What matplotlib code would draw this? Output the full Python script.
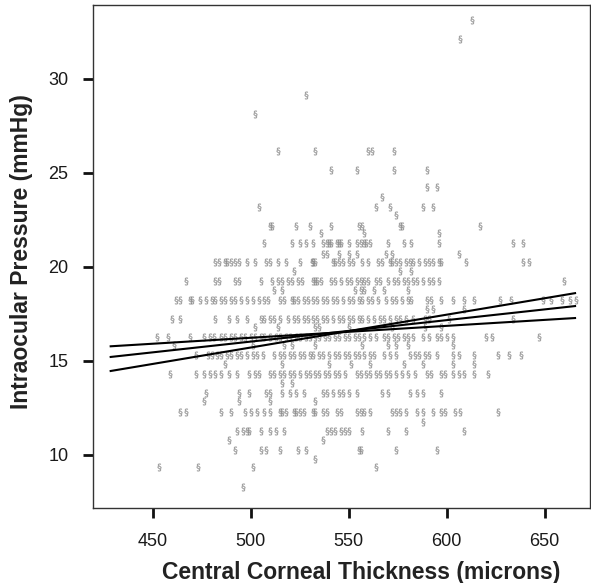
import matplotlib

matplotlib.use("Agg")

import matplotlib.pyplot as plt
import numpy as np

# IOP level of each row of points (mmHg) and the corneal thickness of the points in it
iop_rows = [
    33.15, 32.13, 29.15, 28.12, 26.18, 25.15, 24.22, 23.72, 23.19, 22.75,
    22.18, 21.77, 21.24, 20.67, 20.26, 19.76, 19.23, 18.75, 18.25, 17.77,
    17.24, 16.79, 16.26, 15.81, 15.28, 14.8, 14.3, 13.8, 13.29, 12.84,
    12.29, 11.76, 11.28, 10.8, 10.25, 9.77, 9.33, 8.29,
]
cct_rows = [
    [613],
    [607],
    [528],
    [502],
    [514, 533, 560, 562, 573],
    [541, 554, 573, 590],
    [590, 595],
    [567],
    [504, 564, 571, 588, 593],
    [574],
    [510, 511, 523, 530, 541, 555, 557, 576, 577, 617],
    [536, 558, 596],
    [507, 521, 525, 528, 532, 537, 539, 540, 541, 544, 545, 546, 550, 554, 556,
     558, 559, 561, 570, 578, 582, 596, 634, 639],
    [537, 539, 545, 550, 554, 569, 572, 606],
    [482, 484, 487, 488, 490, 492, 494, 498, 502, 508, 510, 514, 518, 525, 531,
     532, 533, 542, 543, 545, 547, 550, 552, 557, 560, 565, 567, 571, 572, 574,
     576, 579, 581, 583, 586, 589, 591, 593, 596, 597, 610, 639, 642],
    [522, 576, 582],
    [467, 482, 484, 492, 494, 505, 511, 514, 516, 519, 521, 524, 526, 532, 533,
     534, 536, 541, 543, 546, 549, 551, 554, 556, 558, 560, 564, 566, 570, 573,
     575, 578, 580, 583, 585, 588, 591, 593, 596, 660],
    [512, 516, 553, 556, 558, 563, 568, 580],
    [462, 464, 469, 470, 474, 477, 480, 482, 485, 487, 490, 492, 495, 498, 501,
     504, 507, 509, 515, 517, 521, 522, 524, 527, 529, 532, 534, 537, 539, 542,
     544, 547, 550, 552, 555, 557, 560, 562, 565, 569, 572, 574, 577, 580, 582,
     590, 592, 597, 603, 609, 614, 627, 633, 649, 653, 659, 663, 666],
    [590, 593, 609],
    [460, 464, 482, 489, 493, 498, 505, 507, 510, 512, 515, 519, 522, 524, 527,
     529, 532, 534, 537, 539, 542, 545, 547, 550, 552, 555, 557, 560, 563, 566,
     568, 571, 574, 576, 579, 583, 589, 591, 601, 634],
    [502, 514, 533, 535, 550, 572, 589, 597],
    [452, 458, 469, 476, 479, 481, 485, 487, 490, 492, 495, 497, 500, 502, 505,
     507, 510, 513, 515, 518, 520, 523, 525, 528, 530, 533, 535, 538, 540, 543,
     545, 548, 550, 553, 555, 558, 561, 564, 568, 570, 573, 575, 578, 580, 583,
     588, 591, 595, 597, 600, 603, 620, 623, 647],
    [461, 501, 517, 521, 533, 557, 570, 574, 580, 603],
    [472, 478, 480, 483, 485, 488, 490, 493, 495, 498, 501, 503, 506, 512, 515,
     517, 520, 522, 525, 527, 530, 532, 535, 537, 540, 543, 545, 548, 550, 553,
     555, 558, 561, 563, 568, 571, 574, 581, 584, 586, 589, 591, 595, 603, 606,
     614, 626, 632, 638],
    [487, 516, 540, 551, 561, 578, 588, 603, 614],
    [459, 472, 476, 479, 482, 485, 489, 493, 499, 502, 504, 510, 512, 515, 517,
     520, 522, 525, 528, 530, 533, 535, 538, 540, 543, 545, 548, 554, 556, 559,
     561, 564, 566, 569, 571, 574, 577, 580, 584, 590, 592, 597, 599, 603, 606,
     609, 614, 621],
    [516, 521],
    [477, 494, 499, 508, 510, 516, 520, 523, 527, 537, 539, 542, 545, 547, 550,
     554, 567, 570, 581, 585, 588, 597],
    [476, 494, 510, 533],
    [464, 467, 485, 490, 497, 500, 503, 507, 510, 515, 516, 518, 522, 523, 525,
     527, 532, 533, 537, 539, 544, 546, 554, 556, 558, 561, 572, 574, 576, 579,
     585, 588, 593, 597, 599, 604, 607, 626],
    [588],
    [493, 496, 498, 499, 505, 510, 513, 517, 539, 541, 543, 546, 548, 550, 557,
     570, 579, 609],
    [489, 537],
    [492, 505, 508, 515, 524, 528, 555, 556, 574, 595],
    [533],
    [453, 473, 501, 564],
    [496],
]

# fitted line and its two slope bounds, read at both ends
line_x = [428, 666]
fit_mid = [15.19, 17.91]
fit_flat = [15.76, 17.27]
fit_steep = [14.44, 18.60]

cct = np.concatenate([np.array(r, dtype=float) for r in cct_rows])
iop = np.concatenate([np.full(len(r), v) for r, v in zip(cct_rows, iop_rows)])

plt.rcParams["font.family"] = ["Liberation Sans", "DejaVu Sans"]

fig = plt.figure(figsize=(5.91, 5.83), dpi=100, facecolor="white")
ax = fig.add_axes([0.157, 0.129, 0.841, 0.862])

ax.plot(cct, iop, linestyle="none", marker=r"$\S$", markersize=5.5,
        color="#808080", alpha=0.75, markeredgewidth=0.2)

for ys in (fit_flat, fit_mid, fit_steep):
    ax.plot(line_x, ys, color="black", lw=1.5, solid_capstyle="butt")

ax.set_xlim(419.4, 673.0)
ax.set_ylim(7.17, 33.91)
ax.set_xticks([450, 500, 550, 600, 650])
ax.set_yticks([10, 15, 20, 25, 30])

for side in ["top", "right", "left", "bottom"]:
    ax.spines[side].set_color("#333333")
    ax.spines[side].set_linewidth(1.0)

ax.tick_params(direction="out", length=7.5, width=2.0, color="#111111",
               labelsize=13, pad=11, labelcolor="#1a1a1a")
ax.tick_params(axis="y", pad=10)

ax.set_xlabel("Central Corneal Thickness (microns)", fontsize=16.5,
              fontweight="bold", color="#222222")
ax.set_ylabel("Intraocular Pressure (mmHg)", fontsize=16.5,
              fontweight="bold", color="#222222")
ax.xaxis.set_label_coords(0.54, -0.105)
ax.yaxis.set_label_coords(-0.12, 0.51)

fig.savefig("out.png", dpi=100, facecolor="white")
